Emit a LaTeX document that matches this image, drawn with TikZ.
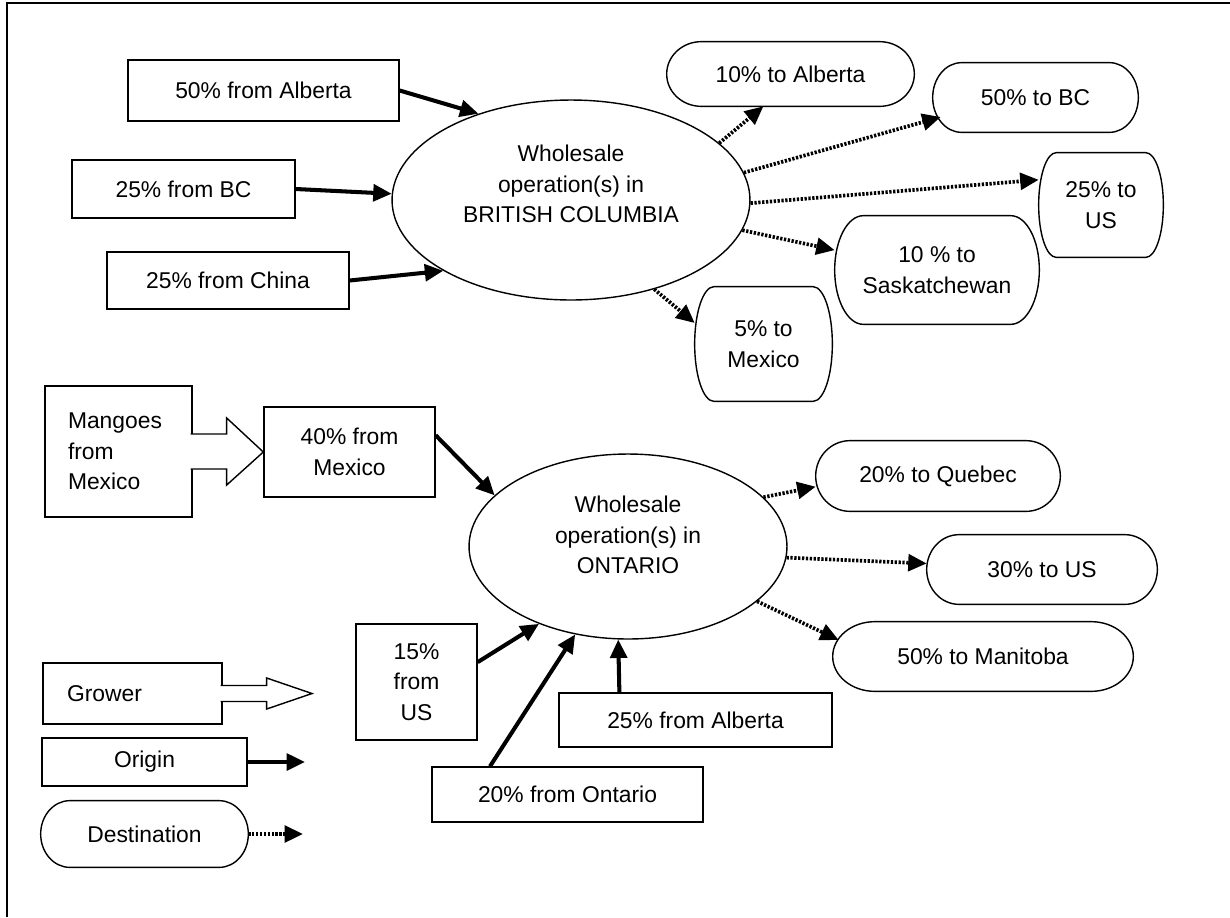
\documentclass[tikz,border=0pt]{standalone}
\usepackage{fontspec}
\setmainfont{Liberation Sans}
\usetikzlibrary{positioning, calc, arrows.meta, shapes.geometric}

% outline of a destination (terminator) box around a named node
\newcommand{\destshape}[1]{%
  \draw[boxline] let \p1 = ($(#1.north east)-(#1.south west)$),
      \n1 = {0.14*\x1}, \n2 = {0.5*\y1} in
    ($(#1.north west)+(\n1,0pt)$) -- ($(#1.north east)-(\n1,0pt)$)
    arc[start angle=90, end angle=-90, x radius=\n1, y radius=\n2]
    -- ($(#1.south west)+(\n1,0pt)$)
    arc[start angle=270, end angle=90, x radius=\n1, y radius=\n2] -- cycle;}

\begin{document}
\begin{tikzpicture}[
    x=0.02cm, y=-0.02cm,
    every node/.style={
        inner sep=0pt,
        align=center,
        font=\fontsize{13}{17.4}\selectfont
    },
    boxline/.style={line width=0.8pt},
    originnode/.style={draw, boxline, rectangle},
    destnode/.style={rectangle},
    hubnode/.style={draw, boxline, ellipse},
    growernode/.style={draw, boxline, rectangle, align=left},
    blockarrow/.style={boxline, fill=white},
    arrow/.style={-{Triangle[length=10.5pt,width=9.5pt]}, line width=2.3pt},
    dotarrow/.style={-{Triangle[length=10.5pt,width=9.5pt]}, line width=2.1pt,
        dash pattern=on 1.3pt off 0.9pt}
]
\useasboundingbox (0,0) rectangle (1230,917);
\draw[line width=1.1pt] (7,917) -- (7,3) -- (1230,3);

% British Columbia
\node[originnode, minimum width=5.42cm, minimum height=1.22cm] (oAlb) at (263.5,90.5) {50\% from Alberta};
\node[originnode, minimum width=4.46cm, minimum height=1.16cm] (oBC) at (183.5,189) {25\% from BC};
\node[originnode, minimum width=4.84cm, minimum height=1.14cm] (oChina) at (228,280.5) {25\% from China};
\node[hubnode, minimum width=7.16cm, minimum height=4cm] (bc) at (571,200) {};
\node (bcText) at (571,184) {Wholesale\\operation(s) in\\BRITISH COLUMBIA};
\node[destnode, minimum width=4.94cm, minimum height=1.28cm] (dAlb) at (790.5,74) {10\% to Alberta};
\node[destnode, minimum width=4.1cm, minimum height=1.38cm] (dBC) at (1035.5,97.5) {50\% to BC};
\node[destnode, minimum width=2.48cm, minimum height=2.08cm] (dUS) at (1101,205) {25\% to\\US};
\node[destnode, minimum width=4.08cm, minimum height=2.16cm] (dSask) at (937,270) {10 \% to\\Saskatchewan};
\node[destnode, minimum width=2.74cm, minimum height=2.28cm] (dMex) at (763.5,344) {5\% to\\Mexico};

% Ontario
\node[growernode, minimum width=2.94cm, minimum height=2.62cm, text width=2.02cm] (grower) at (118.5,451.5) {Mangoes\\from\\Mexico};
\node[originnode, minimum width=3.42cm, minimum height=1.8cm] (oMex) at (349.5,452) {40\% from\\Mexico};
\node[hubnode, minimum width=6.36cm, minimum height=3.7cm] (on) at (628,546.5) {};
\node (onText) at (628,535) {Wholesale\\operation(s) in\\ONTARIO};
\node[originnode, minimum width=2.42cm, minimum height=2.32cm] (oUS) at (416.5,682) {15\%\\from\\US};
\node[originnode, minimum width=5.46cm, minimum height=1.08cm] (oAlbOn) at (695.5,720) {25\% from Alberta};
\node[originnode, minimum width=5.42cm, minimum height=1.1cm] (oOnt) at (567.5,794.5) {20\% from Ontario};
\node[destnode, minimum width=4.88cm, minimum height=1.4cm] (dQue) at (938,476) {20\% to Quebec};
\node[destnode, minimum width=4.6cm, minimum height=1.38cm] (dUSOn) at (1042,569.5) {30\% to US};
\node[destnode, minimum width=6cm, minimum height=1.38cm] (dMan) at (983,656.5) {50\% to Manitoba};

% legend
\node[growernode, minimum width=3.58cm, minimum height=1.22cm, text width=2.62cm] (lGrower) at (132.5,693.5) {Grower};
\coordinate (lGrowerEnd) at (312,693.5);
\node[originnode, minimum width=4.1cm, minimum height=0.96cm] (lOrigin) at (144.5,762) {Origin};
\coordinate (lOriginEnd) at (305,762);
\node[destnode, minimum width=4.14cm, minimum height=1.32cm] (lDest) at (144.5,834) {Destination};
\coordinate (lDestEnd) at (303,834);

\foreach \d in {dAlb, dBC, dUS, dSask, dMex, dQue, dUSOn, dMan, lDest} {\destshape{\d}}

% block arrows
\draw[blockarrow] ($(grower.east)+(-2,-17.5)$) -- ++(36,0) -- ++(0,-16) -- (oMex.west)
    -- ($(grower.east)+(34,33.5)$) -- ++(0,-16) -- ++(-36,0);
\draw[blockarrow] ($(lGrower.east)+(-2,-8)$) -- ++(46,0) -- ++(0,-7.5) -- (lGrowerEnd)
    -- ($(lGrower.east)+(44,15.5)$) -- ++(0,-7.5) -- ++(-46,0);

% connectors
\draw[arrow] (oAlb.east) -- (bc.137);
\draw[arrow] (oBC.east) -- (bc.178);
\draw[arrow] (oChina.east) -- (bc.209);
\draw[dotarrow] (bc.21) -- (dAlb.230);
\draw[dotarrow] (bc.9) -- ($(dBC.west)+(8,19.5)$);
\draw[dotarrow] (bc.359) -- (dUS.158);
\draw[dotarrow] (bc.350) -- (dSask.169);
\draw[dotarrow] (bc.313) -- (dMex.163);
\draw[arrow] (oMex.11) -- (on.159);
\draw[arrow] (oUS.18) -- (on.221);
\draw[arrow] (oOnt.160) -- (on.239);
\draw[arrow] (oAlbOn.160) -- (on.264);
\draw[dotarrow] (on.20) -- (dQue.185);
\draw[dotarrow] (on.356) -- (dUSOn.177);
\draw[dotarrow] (on.337) -- ($(dMan.west)+(6,-16.5)$);
\draw[arrow] (lOrigin.east) -- (lOriginEnd);
\draw[dotarrow] (lDest.east) -- (lDestEnd);
\end{tikzpicture}
\end{document}
